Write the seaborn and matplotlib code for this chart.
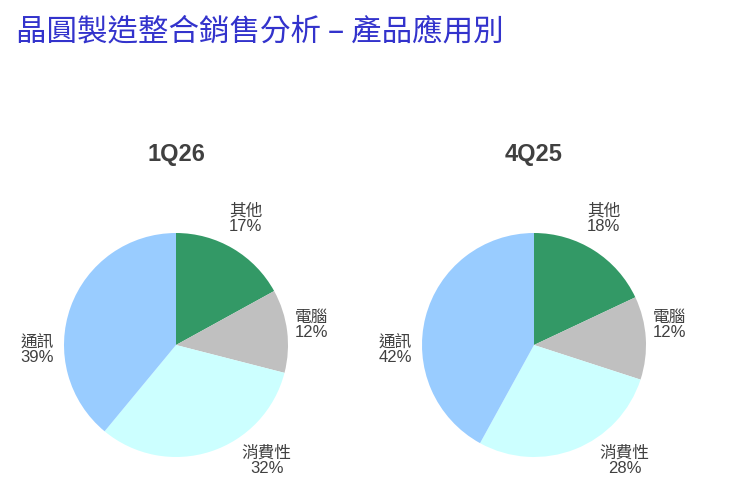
import matplotlib
matplotlib.use("Agg")
import matplotlib.pyplot as plt
import seaborn as sns

sns.set_theme(style="white")
plt.rcParams['font.family'] = ['Liberation Sans', 'Noto Sans CJK TC', 'DejaVu Sans']

# data
categories = ["其他", "電腦", "消費性", "通訊"]
q1_26 = [17, 12, 32, 39]
q4_25 = [18, 12, 28, 42]
periods = ["1Q26", "4Q25"]
colors = ["#339966", "#C0C0C0", "#CCFFFF", "#99CCFF"]

# label placement (axes units, radius = 1)
label_pos = [(0.62, 1.13), (1.21, 0.18), (0.81, -1.03), (-1.24, -0.04)]

W, H = 740, 503
fig = plt.figure(figsize=(W / 100, H / 100), dpi=100)
fig.text(16 / W, 1 - 32 / H, "晶圓製造整合銷售分析 – 產品應用別",
         fontsize=22, color="#3333CC", va="center", ha="left",
         family=['Noto Sans CJK TC', 'DejaVu Sans'])

centers = [(176, 345), (534, 345)]
r = 112
for (cx, cy), name, vals in zip(centers, periods, [q1_26, q4_25]):
    ax = fig.add_axes([(cx - r) / W, (H - cy - r) / H, 2 * r / W, 2 * r / H])
    ax.pie(vals, colors=colors, startangle=90, counterclock=False,
           wedgeprops=dict(linewidth=0))
    for c, v, (lx, ly) in zip(categories, vals, label_pos):
        ax.text(lx, ly, f"{c}\n{v}%", fontsize=12, color="#404040",
                ha="center", va="center", linespacing=1.05)
    ax.set_xlim(-1, 1)
    ax.set_ylim(-1, 1)
    ax.set_aspect("equal")
    fig.text(cx / W, 1 - 155 / H, name, fontsize=17, fontweight="bold",
             color="#404040", ha="center", va="center")

fig.savefig("out.png", dpi=100)
